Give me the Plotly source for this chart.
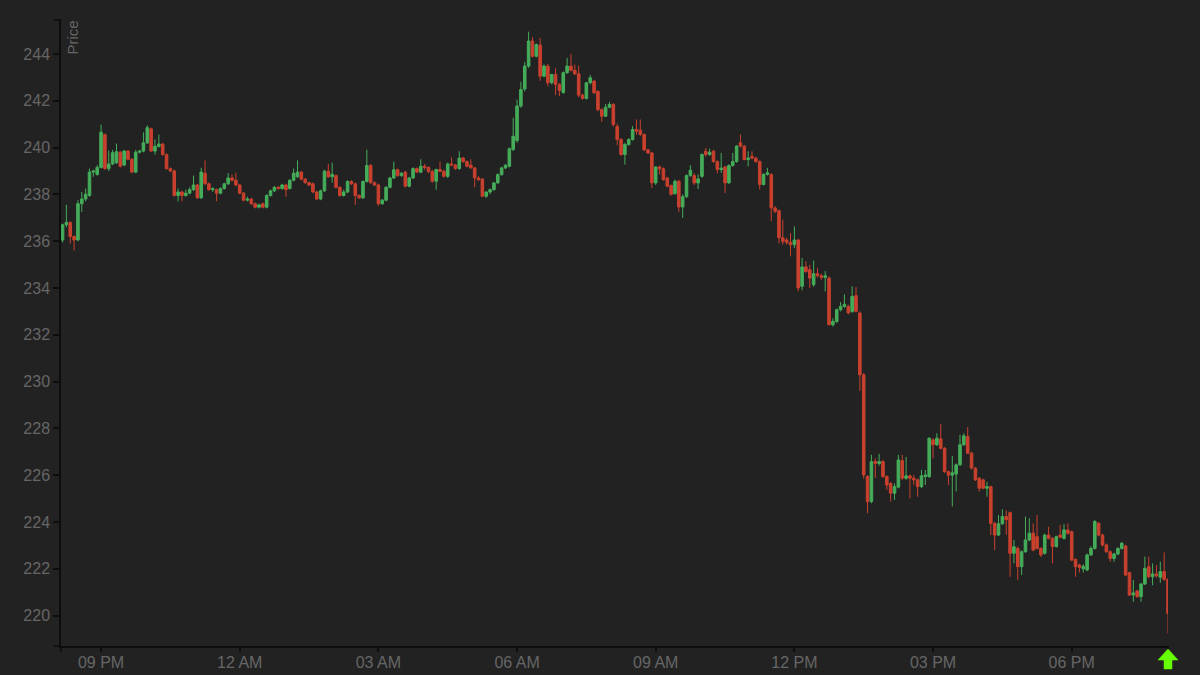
import plotly.graph_objects as go
import pandas as pd

# ---------------- data (5-minute candles) ----------------
start_time = "2024-05-13 20:10"
n_candles = 288

opens = [
 236.05, 236.70, 236.80, 236.20, 236.05, 237.60, 237.80, 237.95, 238.95, 238.85,
 239.15, 240.55, 239.10, 239.30, 239.35, 239.80, 239.25, 239.85, 239.50, 238.95,
 239.80, 239.85, 240.20, 240.80, 239.85, 240.05, 240.15, 239.70, 239.10, 239.00,
 237.95, 238.10, 237.95, 238.05, 238.20, 238.40, 237.85, 238.90, 238.45, 238.20,
 238.20, 238.05, 238.25, 238.45, 238.70, 238.60, 238.40, 238.05, 237.75, 237.80,
 237.60, 237.45, 237.60, 237.45, 237.95, 238.15, 238.30, 238.25, 238.40, 238.25,
 238.60, 238.75, 238.95, 238.65, 238.50, 238.45, 238.10, 237.80, 238.15, 238.99,
 238.75, 238.80, 238.30, 237.95, 238.10, 238.55, 238.45, 237.95, 237.85, 238.55,
 239.23, 238.50, 238.40, 237.60, 237.75, 238.30, 238.70, 239.05, 238.80, 238.95,
 238.35, 238.70, 239.10, 238.95, 239.20, 239.15, 238.98, 238.56, 239.06, 238.98,
 238.77, 239.30, 239.25, 239.10, 239.55, 239.40, 239.25, 239.13, 238.70, 238.65,
 237.92, 238.10, 238.20, 238.49, 238.84, 239.13, 239.20, 239.92, 240.30, 241.77,
 242.50, 243.48, 244.55, 243.90, 244.38, 243.05, 243.48, 242.77, 243.12, 242.70,
 242.35, 243.20, 243.48, 243.30, 243.15, 242.24, 242.10, 242.77, 242.84, 242.40,
 241.62, 241.34, 241.72, 241.84, 240.90, 240.35, 239.70, 240.13, 240.34, 240.77,
 240.74, 240.56, 239.90, 239.77, 238.49, 239.17, 239.09, 238.70, 238.38, 238.03,
 238.56, 237.46, 237.90, 238.80, 238.80, 238.49, 238.77, 239.84, 239.70, 239.84,
 239.40, 239.06, 239.17, 238.49, 239.23, 239.40, 240.20, 240.06, 239.49, 239.62,
 239.55, 239.40, 238.42, 238.85, 238.85, 237.42, 237.30, 236.14, 236.05, 235.95,
 235.85, 236.05, 234.07, 234.90, 234.78, 234.14, 234.61, 234.52, 234.45, 234.42,
 232.43, 232.57, 233.07, 233.21, 233.21, 232.99, 233.67, 232.93, 230.29, 225.94,
 224.87, 226.58, 226.50, 226.58, 225.94, 225.65, 225.23, 225.49, 226.62, 225.87,
 225.97, 225.87, 225.80, 225.51, 225.94, 225.94, 227.51, 227.30, 227.55, 227.15,
 226.15, 226.00, 226.05, 226.44, 227.30, 227.65, 226.94, 226.30, 225.87, 225.80,
 225.44, 225.51, 223.94, 223.44, 223.92, 224.23, 224.40, 222.66, 222.87, 222.09,
 222.73, 223.23, 223.52, 223.37, 222.87, 222.66, 223.44, 223.30, 222.95, 223.44,
 223.30, 223.66, 223.58, 222.40, 222.16, 222.00, 221.95, 222.59, 222.87, 223.94,
 223.44, 223.02, 222.73, 222.44, 222.63, 222.87, 222.97, 221.83, 220.88, 221.05,
 220.81, 221.35, 222.09, 221.66, 221.78, 221.64, 221.88, 221.55,
]

highs = [
 236.75, 237.55, 236.85, 236.25, 237.75, 238.10, 238.25, 239.10, 239.05, 239.25,
 240.98, 240.60, 239.87, 239.90, 240.17, 239.85, 239.90, 239.90, 239.55, 239.90,
 239.90, 240.65, 240.95, 240.85, 240.35, 240.55, 240.20, 239.75, 239.15, 239.05,
 238.25, 238.15, 238.20, 238.30, 238.80, 238.45, 239.13, 239.45, 238.50, 238.30,
 238.25, 238.30, 238.50, 238.90, 238.85, 238.93, 238.45, 238.10, 237.90, 237.85,
 237.65, 237.60, 237.65, 238.00, 238.20, 238.35, 238.35, 238.45, 238.45, 238.65,
 239.10, 239.45, 239.00, 238.70, 238.55, 238.50, 238.15, 238.20, 239.05, 239.30,
 239.35, 238.85, 238.35, 238.20, 238.60, 238.60, 238.50, 238.00, 238.60, 239.91,
 239.30, 238.55, 238.45, 237.80, 238.35, 238.75, 239.40, 239.10, 238.95, 239.00,
 238.75, 239.15, 239.15, 239.50, 239.30, 239.20, 239.05, 239.10, 239.40, 239.05,
 239.35, 239.58, 239.30, 239.84, 239.60, 239.45, 239.50, 239.18, 238.78, 238.70,
 238.12, 238.25, 238.52, 238.90, 239.18, 239.30, 240.00, 241.27, 242.05, 242.81,
 243.65, 244.95, 244.72, 244.45, 244.69, 243.55, 243.58, 243.15, 243.40, 242.75,
 243.25, 243.83, 244.00, 243.55, 243.50, 242.30, 242.80, 243.10, 242.90, 242.45,
 241.68, 241.86, 241.95, 241.90, 241.02, 240.40, 240.20, 240.40, 240.92, 241.20,
 241.20, 240.60, 239.95, 239.82, 239.20, 239.23, 239.15, 238.75, 238.42, 238.63,
 238.62, 238.00, 238.85, 239.25, 238.90, 238.85, 239.75, 239.98, 239.95, 239.90,
 239.45, 239.77, 239.22, 239.28, 239.77, 240.10, 240.56, 240.10, 239.84, 239.84,
 239.60, 239.45, 238.90, 239.13, 238.90, 237.50, 237.35, 236.92, 236.15, 236.35,
 236.63, 236.10, 235.28, 235.14, 234.99, 235.17, 234.85, 234.60, 234.72, 234.50,
 232.70, 233.12, 233.40, 233.72, 233.28, 234.07, 234.04, 233.00, 230.36, 226.00,
 226.87, 226.72, 226.91, 226.65, 226.00, 225.70, 225.65, 226.87, 226.87, 226.78,
 226.02, 226.01, 225.85, 226.22, 226.22, 227.62, 227.58, 227.79, 228.19, 227.20,
 226.20, 226.82, 226.50, 227.72, 227.79, 228.05, 227.00, 226.35, 225.92, 225.85,
 225.72, 225.55, 224.00, 224.30, 224.54, 224.50, 224.45, 223.23, 222.95, 222.78,
 224.23, 224.16, 223.94, 224.30, 222.92, 223.50, 223.80, 223.35, 223.42, 223.87,
 223.91, 223.94, 223.63, 222.45, 222.22, 222.20, 222.65, 222.96, 224.08, 224.00,
 223.50, 223.08, 222.78, 222.68, 222.92, 223.15, 223.03, 221.88, 221.52, 221.10,
 221.40, 222.52, 222.52, 222.23, 222.16, 222.30, 222.70, 221.60,
]

lows = [
 235.95, 236.60, 235.90, 235.60, 236.00, 237.25, 237.70, 237.90, 238.75, 238.80,
 239.10, 239.05, 239.00, 239.25, 239.30, 239.15, 239.20, 239.45, 238.90, 238.90,
 239.75, 239.80, 240.15, 239.80, 239.70, 240.00, 239.65, 239.05, 238.95, 237.90,
 237.70, 237.70, 237.90, 238.00, 238.15, 237.80, 237.80, 238.40, 238.15, 238.10,
 237.70, 238.00, 238.20, 238.40, 238.55, 238.35, 238.00, 237.70, 237.70, 237.55,
 237.40, 237.40, 237.40, 237.40, 237.90, 238.10, 238.20, 238.20, 237.90, 238.20,
 238.55, 238.70, 238.60, 238.45, 238.35, 238.05, 237.75, 237.75, 238.10, 238.70,
 238.50, 238.25, 237.90, 237.90, 238.05, 238.40, 237.55, 237.80, 237.80, 238.50,
 238.45, 238.35, 237.50, 237.55, 237.70, 238.25, 238.65, 238.75, 238.75, 238.30,
 238.30, 238.65, 238.90, 238.90, 239.05, 238.90, 238.50, 238.20, 238.95, 238.72,
 238.70, 239.20, 239.05, 239.05, 239.35, 239.15, 239.10, 238.30, 238.58, 237.90,
 237.85, 238.00, 238.15, 238.45, 238.80, 239.08, 239.15, 239.85, 240.20, 241.70,
 242.40, 243.40, 243.85, 243.85, 242.85, 243.00, 242.62, 242.70, 242.24, 242.20,
 242.30, 243.15, 243.25, 243.10, 242.15, 242.05, 242.05, 242.70, 242.28, 241.55,
 241.10, 241.30, 241.68, 240.90, 240.10, 239.65, 239.27, 240.08, 240.30, 240.55,
 240.50, 239.85, 239.72, 238.27, 238.40, 238.85, 238.58, 238.30, 237.95, 237.98,
 237.25, 236.99, 237.85, 238.75, 238.40, 238.23, 238.70, 239.60, 239.65, 239.35,
 238.90, 238.92, 238.06, 238.45, 239.18, 239.35, 240.00, 239.45, 239.20, 239.50,
 239.35, 238.20, 238.38, 238.80, 236.85, 237.20, 235.90, 235.85, 235.85, 235.35,
 235.70, 233.85, 233.90, 234.65, 233.99, 234.05, 234.45, 234.35, 233.85, 232.40,
 232.35, 232.50, 233.00, 233.15, 232.88, 232.94, 232.95, 229.60, 225.85, 224.37,
 224.80, 225.88, 226.40, 225.88, 225.37, 224.87, 224.94, 225.44, 225.79, 225.80,
 225.01, 225.58, 225.08, 225.45, 225.58, 225.88, 226.72, 227.25, 227.10, 226.10,
 225.58, 224.66, 225.30, 226.40, 227.25, 226.90, 226.25, 225.75, 225.30, 225.40,
 225.08, 223.44, 222.80, 223.40, 223.88, 223.45, 221.66, 222.23, 221.52, 221.73,
 222.68, 223.18, 222.75, 222.82, 222.50, 222.60, 223.25, 222.23, 222.90, 223.30,
 223.25, 223.45, 222.32, 221.66, 221.84, 221.84, 221.90, 222.55, 222.82, 223.38,
 222.95, 222.68, 222.30, 222.30, 222.58, 222.82, 221.68, 220.83, 220.59, 220.76,
 220.59, 221.30, 221.60, 221.30, 221.62, 221.40, 221.48, 219.24,
]

closes = [
 236.70, 236.80, 236.20, 236.05, 237.60, 237.80, 238.00, 238.95, 239.00, 239.15,
 240.65, 239.10, 239.30, 239.78, 239.82, 239.20, 239.85, 239.50, 238.95, 239.80,
 239.85, 240.20, 240.85, 239.85, 240.05, 240.15, 239.70, 239.10, 239.00, 237.95,
 238.10, 237.95, 238.05, 238.20, 238.40, 237.85, 238.95, 238.45, 238.20, 238.25,
 238.05, 238.25, 238.45, 238.70, 238.60, 238.40, 238.05, 237.75, 237.80, 237.60,
 237.45, 237.55, 237.45, 237.95, 238.15, 238.30, 238.25, 238.40, 238.20, 238.60,
 238.90, 238.95, 238.65, 238.50, 238.40, 238.10, 237.80, 238.15, 238.99, 238.75,
 238.85, 238.30, 237.95, 238.10, 238.55, 238.45, 237.95, 237.85, 238.55, 239.23,
 238.50, 238.40, 237.60, 237.75, 238.30, 238.70, 239.05, 238.80, 238.90, 238.35,
 238.70, 239.10, 238.95, 239.20, 239.15, 238.98, 238.56, 239.06, 238.98, 238.77,
 239.30, 239.25, 239.10, 239.55, 239.40, 239.20, 239.13, 238.70, 238.62, 237.92,
 238.10, 238.20, 238.49, 238.84, 239.13, 239.24, 239.95, 240.48, 241.77, 242.48,
 243.48, 244.55, 243.90, 244.40, 243.05, 243.48, 242.77, 243.12, 242.70, 242.44,
 243.20, 243.48, 243.30, 243.15, 242.24, 242.10, 242.77, 242.98, 242.34, 241.62,
 241.34, 241.72, 241.84, 240.98, 240.35, 239.70, 240.13, 240.34, 240.77, 240.70,
 240.56, 239.90, 239.77, 238.49, 239.17, 239.09, 238.63, 238.35, 237.99, 238.56,
 237.46, 237.90, 238.80, 239.03, 238.49, 238.66, 239.70, 239.70, 239.80, 239.40,
 239.06, 239.12, 238.49, 239.23, 239.40, 240.06, 240.06, 239.49, 239.55, 239.55,
 239.40, 238.42, 238.85, 238.92, 237.42, 237.28, 236.14, 235.99, 235.95, 235.85,
 236.05, 234.00, 234.90, 234.70, 234.42, 234.61, 234.52, 234.45, 234.52, 232.43,
 232.57, 233.07, 233.21, 233.30, 232.93, 233.64, 233.00, 230.29, 226.01, 224.87,
 226.58, 226.50, 226.58, 225.94, 225.58, 225.23, 225.51, 226.65, 225.87, 225.97,
 225.87, 225.80, 225.51, 225.97, 226.01, 227.58, 227.30, 227.58, 227.15, 226.15,
 226.00, 226.10, 226.44, 227.30, 227.68, 226.94, 226.30, 225.80, 225.44, 225.44,
 225.51, 223.94, 223.44, 223.92, 224.23, 224.10, 222.66, 222.94, 222.09, 222.73,
 223.23, 223.52, 222.80, 222.87, 222.59, 223.44, 223.30, 222.95, 223.37, 223.35,
 223.66, 223.52, 222.37, 222.09, 222.06, 222.10, 222.59, 222.87, 224.02, 223.44,
 223.02, 222.73, 222.44, 222.63, 222.87, 223.09, 221.73, 220.88, 220.97, 220.81,
 221.35, 222.02, 221.66, 221.78, 221.70, 221.88, 221.55, 220.09,
]

y_ticks = [220, 222, 224, 226, 228, 230, 232, 234, 236, 238, 240, 242, 244]

# ---------------- styling ----------------
BG = "#222222"
GREEN = "#45ad5a"
RED = "#c9402e"
AXIS = "#0d0d0d"
TICKTXT = "#666666"
FONT = "Liberation Sans, Arial, sans-serif"

n = min(len(opens), len(highs), len(lows), len(closes), n_candles)
times = pd.date_range(start_time, periods=n, freq="5min")

fig = go.Figure(
    go.Candlestick(
        x=times,
        open=opens[:n], high=highs[:n], low=lows[:n], close=closes[:n],
        increasing=dict(line=dict(color=GREEN, width=1), fillcolor=GREEN),
        decreasing=dict(line=dict(color=RED, width=1), fillcolor=RED),
        whiskerwidth=0,
        hoverinfo="x+y",
    )
)

W, H = 1200, 675
ML, MR, MT, MB = 61, 32, 20, 29
PW, PH = W - ML - MR, H - MT - MB


def px(x):
    return (x - ML) / PW


def py(y):
    return (H - MB - y) / PH


# outer domain ticks (d3 style) and the green arrow marker
shapes = [
    dict(type="line", xref="paper", yref="paper", x0=px(54), x1=px(61), y0=py(20), y1=py(20),
         line=dict(color=AXIS, width=1.5)),
    dict(type="line", xref="paper", yref="paper", x0=px(54), x1=px(61), y0=py(646), y1=py(646),
         line=dict(color=AXIS, width=1.5)),
    dict(type="line", xref="paper", yref="paper", x0=px(61), x1=px(61), y0=py(646), y1=py(652),
         line=dict(color=AXIS, width=1.5)),
    dict(type="line", xref="paper", yref="paper", x0=px(1168), x1=px(1168), y0=py(646), y1=py(652),
         line=dict(color=AXIS, width=1.5)),
]
arrow_pts = [(1168, 649), (1178, 660), (1172, 660), (1172, 669), (1164, 669), (1164, 660), (1158, 660)]
path = "M " + " L ".join(f"{px(a):.5f},{py(b):.5f}" for a, b in arrow_pts) + " Z"
shapes.append(dict(type="path", xref="paper", yref="paper", path=path,
                   fillcolor="#66ff00", line=dict(color="#66ff00", width=0.5), layer="above"))

fig.update_layout(
    width=W, height=H,
    paper_bgcolor=BG, plot_bgcolor=BG,
    margin=dict(l=ML, r=MR, t=MT, b=MB, pad=0, autoexpand=False),
    showlegend=False,
    boxgap=0.05,
    font=dict(family=FONT, size=16, color=TICKTXT),
    shapes=shapes,
    annotations=[dict(text="Price", xref="paper", yref="paper", x=px(71.5), y=py(38),
                      textangle=-90, showarrow=False, xanchor="center", yanchor="middle",
                      font=dict(family=FONT, size=15, color=TICKTXT))],
    xaxis=dict(
        type="date",
        automargin=False,
        range=["2024-05-13 20:08", "2024-05-14 20:05"],
        tick0="2024-05-13 21:00", dtick=3 * 3600 * 1000,
        tickformat="%I %p",
        showgrid=False, zeroline=False,
        showline=True, linecolor=AXIS, linewidth=1.5,
        ticks="outside", ticklen=4, tickwidth=1.5, tickcolor=AXIS,
        ticklabelstandoff=-3,
        tickfont=dict(family=FONT, size=16, color=TICKTXT),
        rangeslider=dict(visible=False),
    ),
    yaxis=dict(
        automargin=False,
        range=[218.70, 245.45],
        tickvals=y_ticks,
        showgrid=False, zeroline=False,
        showline=True, linecolor=AXIS, linewidth=1.5,
        ticks="outside", ticklen=6, tickwidth=1.5, tickcolor=AXIS,
        tickfont=dict(family=FONT, size=16, color=TICKTXT),
    ),
)

fig.write_html(
    "out.html",
    config={"displayModeBar": False},
    post_script="document.body.style.margin='0';document.body.style.overflow='hidden';"
                "document.body.style.background='#222222';",
)
